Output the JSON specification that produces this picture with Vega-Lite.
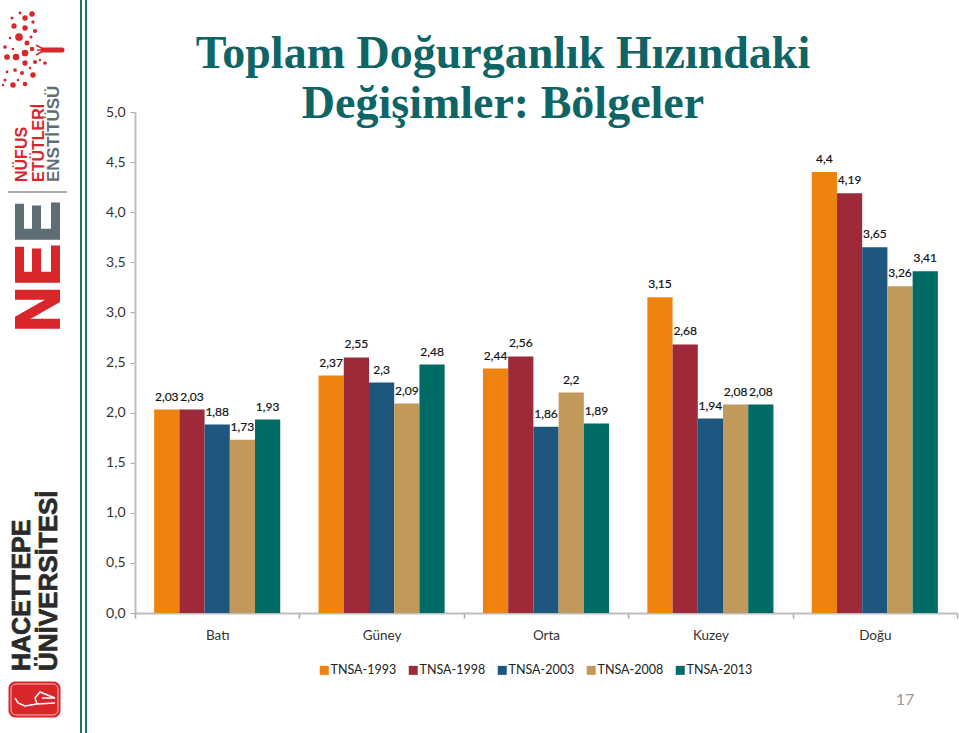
{
"$schema":"https://vega.github.io/schema/vega-lite/v6.json",
"width":822,"height":501,
"autosize":{"type":"none"},
"padding":{"left":135,"top":112,"right":2,"bottom":120},
"background":"white",
"config":{"view":{"stroke":null},"font":"Lato"},
"title":{"text":["Toplam Doğurganlık Hızındaki","Değişimler: Bölgeler"],"font":"Liberation Serif","fontWeight":"bold","fontSize":46,"color":"#0F6466","anchor":"middle","frame":"group","dx":-43,"offset":-129,"lineHeight":50},
"resolve":{"scale":{"x":"independent","y":"independent","xOffset":"independent"}},
"layer":[
{"data":{"values":[
{"bolge":"Batı","arastirma":"TNSA-1993","deger":2.03,"etiket":"2,03"},
{"bolge":"Batı","arastirma":"TNSA-1998","deger":2.03,"etiket":"2,03"},
{"bolge":"Batı","arastirma":"TNSA-2003","deger":1.88,"etiket":"1,88"},
{"bolge":"Batı","arastirma":"TNSA-2008","deger":1.73,"etiket":"1,73"},
{"bolge":"Batı","arastirma":"TNSA-2013","deger":1.93,"etiket":"1,93"},
{"bolge":"Güney","arastirma":"TNSA-1993","deger":2.37,"etiket":"2,37"},
{"bolge":"Güney","arastirma":"TNSA-1998","deger":2.55,"etiket":"2,55"},
{"bolge":"Güney","arastirma":"TNSA-2003","deger":2.3,"etiket":"2,3"},
{"bolge":"Güney","arastirma":"TNSA-2008","deger":2.09,"etiket":"2,09"},
{"bolge":"Güney","arastirma":"TNSA-2013","deger":2.48,"etiket":"2,48"},
{"bolge":"Orta","arastirma":"TNSA-1993","deger":2.44,"etiket":"2,44"},
{"bolge":"Orta","arastirma":"TNSA-1998","deger":2.56,"etiket":"2,56"},
{"bolge":"Orta","arastirma":"TNSA-2003","deger":1.86,"etiket":"1,86"},
{"bolge":"Orta","arastirma":"TNSA-2008","deger":2.2,"etiket":"2,2"},
{"bolge":"Orta","arastirma":"TNSA-2013","deger":1.89,"etiket":"1,89"},
{"bolge":"Kuzey","arastirma":"TNSA-1993","deger":3.15,"etiket":"3,15"},
{"bolge":"Kuzey","arastirma":"TNSA-1998","deger":2.68,"etiket":"2,68"},
{"bolge":"Kuzey","arastirma":"TNSA-2003","deger":1.94,"etiket":"1,94"},
{"bolge":"Kuzey","arastirma":"TNSA-2008","deger":2.08,"etiket":"2,08"},
{"bolge":"Kuzey","arastirma":"TNSA-2013","deger":2.08,"etiket":"2,08"},
{"bolge":"Doğu","arastirma":"TNSA-1993","deger":4.4,"etiket":"4,4"},
{"bolge":"Doğu","arastirma":"TNSA-1998","deger":4.19,"etiket":"4,19"},
{"bolge":"Doğu","arastirma":"TNSA-2003","deger":3.65,"etiket":"3,65"},
{"bolge":"Doğu","arastirma":"TNSA-2008","deger":3.26,"etiket":"3,26"},
{"bolge":"Doğu","arastirma":"TNSA-2013","deger":3.41,"etiket":"3,41"}
]},
"encoding":{
"x":{"field":"bolge","type":"nominal","sort":["Batı","Güney","Orta","Kuzey","Doğu"],"title":null,"scale":{"paddingInner":0,"paddingOuter":0},
"axis":{"labelAngle":0,"labelFontSize":13.5,"labelColor":"#333333","labelFont":"Lato","labelPadding":10,"tickBand":"extent","tickSize":5,"tickColor":"#A6A6A6","domainColor":"#BDBDBD","domainWidth":2,"tickWidth":1.5,"grid":false}},
"xOffset":{"field":"arastirma","type":"nominal","scale":{"paddingInner":0,"paddingOuter":0.76}},
"y":{"field":"deger","type":"quantitative","title":null,"scale":{"domain":[0,5],"nice":false},
"axis":{"values":[0,0.5,1,1.5,2,2.5,3,3.5,4,4.5,5],"labelExpr":"replace(format(datum.value,'.1f'),'.',',')","labelFontSize":14,"labelColor":"#333333","labelFont":"Lato","labelPadding":5,"tickSize":5,"tickColor":"#A6A6A6","domainColor":"#BDBDBD","domainWidth":2,"grid":false}}
},
"layer":[
{"mark":{"type":"bar"},
"encoding":{"color":{"field":"arastirma","type":"nominal","title":null,"scale":{"domain":["TNSA-1993","TNSA-1998","TNSA-2003","TNSA-2008","TNSA-2013"],"range":["#F0820F","#9E2A39","#1D577D","#C19A5B","#006A64"]},
"legend":{"orient":"none","legendX":183,"legendY":552,"direction":"horizontal","columns":5,"symbolType":"square","symbolSize":81,"symbolStrokeWidth":0,"labelFontSize":12.5,"labelColor":"#222222","labelFont":"Lato","columnPadding":10,"labelOffset":0}}}},
{"mark":{"type":"text","dy":-13,"fontSize":12,"font":"Lato","fontWeight":"normal","color":"#111111","stroke":"#111111","strokeWidth":0.2},"encoding":{"text":{"field":"etiket"}}}
]},
{"data":{"values":[{"px":81,"py":0,"py2":733},{"px":86,"py":0,"py2":733}]},"mark":{"type":"rule","color":"#1F6F72","strokeWidth":2},
"encoding":{"x":{"field":"px","type":"quantitative","axis":null,"scale":{"domain":[0,959],"range":[-135,824]}},"y":{"field":"py","type":"quantitative","axis":null,"scale":{"domain":[0,733],"range":[-112,621]}},"y2":{"field":"py2"}}},
{"data":{"values":[{"px":8,"px2":67,"py":192}]},"mark":{"type":"rule","color":"#A9B0B3","strokeWidth":2},
"encoding":{"x":{"field":"px","type":"quantitative","axis":null,"scale":{"domain":[0,959],"range":[-135,824]}},"x2":{"field":"px2"},"y":{"field":"py","type":"quantitative","axis":null,"scale":{"domain":[0,733],"range":[-112,621]}}}},
{"data":{"values":[{"px":43,"px2":62,"py":50}]},"mark":{"type":"rule","color":"#D8262A","strokeWidth":5,"strokeCap":"round"},
"encoding":{"x":{"field":"px","type":"quantitative","axis":null,"scale":{"domain":[0,959],"range":[-135,824]}},"x2":{"field":"px2"},"y":{"field":"py","type":"quantitative","axis":null,"scale":{"domain":[0,733],"range":[-112,621]}}}},
{"data":{"values":[{"px":36,"px2":45,"py":45,"py2":50},{"px":36,"px2":45,"py":55,"py2":50},{"px":37,"px2":45,"py":50,"py2":50}]},"mark":{"type":"rule","color":"#D8262A","strokeWidth":1.5},
"encoding":{"x":{"field":"px","type":"quantitative","axis":null,"scale":{"domain":[0,959],"range":[-135,824]}},"x2":{"field":"px2"},"y":{"field":"py","type":"quantitative","axis":null,"scale":{"domain":[0,733],"range":[-112,621]}},"y2":{"field":"py2"}}},
{"data":{"values":[
{"px":32,"py":14,"s":30},{"px":25,"py":18,"s":28},{"px":12,"py":18,"s":10},{"px":20,"py":13,"s":8},{"px":33,"py":22,"s":12},
{"px":14,"py":26,"s":28},{"px":25,"py":28,"s":30},{"px":35,"py":31,"s":18},{"px":31,"py":37,"s":10},{"px":19,"py":37,"s":60},
{"px":10,"py":38,"s":6},{"px":27,"py":43,"s":25},{"px":5,"py":47,"s":14},{"px":13,"py":49,"s":6},{"px":32,"py":49,"s":20},
{"px":25,"py":53,"s":45},{"px":7,"py":57,"s":32},{"px":16,"py":57,"s":42},{"px":35,"py":62,"s":16},{"px":25,"py":63,"s":28},
{"px":45,"py":63,"s":14},{"px":15,"py":70,"s":14},{"px":22,"py":73,"s":16},{"px":33,"py":75,"s":30},{"px":7,"py":72,"s":8},
{"px":5,"py":80,"s":10},{"px":13,"py":85,"s":30},{"px":25,"py":84,"s":22},{"px":18,"py":80,"s":6},{"px":3,"py":85,"s":6},
{"px":40,"py":60,"s":6},{"px":30,"py":68,"s":6}
]},"mark":{"type":"point","filled":true,"color":"#D8262A","opacity":1},
"encoding":{"x":{"field":"px","type":"quantitative","axis":null,"scale":{"domain":[0,959],"range":[-135,824]}},"y":{"field":"py","type":"quantitative","axis":null,"scale":{"domain":[0,733],"range":[-112,621]}},"size":{"field":"s","type":"quantitative","legend":null,"scale":null}}},
{"data":{"values":[{"px":9,"px2":60,"py":682,"py2":717}]},"mark":{"type":"rect","color":"#D8262A","cornerRadius":6,"stroke":"#D8262A"},
"encoding":{"x":{"field":"px","type":"quantitative","axis":null,"scale":{"domain":[0,959],"range":[-135,824]}},"x2":{"field":"px2"},"y":{"field":"py","type":"quantitative","axis":null,"scale":{"domain":[0,733],"range":[-112,621]}},"y2":{"field":"py2"}}},
{"data":{"values":[{"px":11,"px2":58,"py":684,"py2":715}]},"mark":{"type":"rect","fillOpacity":0,"cornerRadius":5,"stroke":"#F3B8B8","strokeWidth":1},
"encoding":{"x":{"field":"px","type":"quantitative","axis":null,"scale":{"domain":[0,959],"range":[-135,824]}},"x2":{"field":"px2"},"y":{"field":"py","type":"quantitative","axis":null,"scale":{"domain":[0,733],"range":[-112,621]}},"y2":{"field":"py2"}}},
{"data":{"values":[{"n":1,"px":15,"py":698},{"n":2,"px":18,"py":703},{"n":3,"px":25,"py":706},{"n":4,"px":37,"py":704},{"n":5,"px":55,"py":703},{"n":6,"px":37,"py":704},{"n":7,"px":35,"py":698},{"n":8,"px":40,"py":692},{"n":9,"px":55,"py":698},{"n":10,"px":42,"py":698}]},"mark":{"type":"line","color":"white","strokeWidth":1.5},
"encoding":{"x":{"field":"px","type":"quantitative","axis":null,"scale":{"domain":[0,959],"range":[-135,824]}},"y":{"field":"py","type":"quantitative","axis":null,"scale":{"domain":[0,733],"range":[-112,621]}},"order":{"field":"n","type":"quantitative"}}},
{"data":{"values":[{"t":"N","px":39.5,"py":332},{"t":"E","px":39.5,"py":286}]},"mark":{"type":"text","font":"Liberation Sans","fontWeight":"bold","fontSize":63,"angle":270,"color":"#D8262A","stroke":"#D8262A","strokeWidth":2,"align":"left","baseline":"middle"},
"encoding":{"x":{"field":"px","type":"quantitative","axis":null,"scale":{"domain":[0,959],"range":[-135,824]}},"y":{"field":"py","type":"quantitative","axis":null,"scale":{"domain":[0,733],"range":[-112,621]}},"text":{"field":"t"}}},
{"data":{"values":[{"t":"E","px":39.5,"py":243}]},"mark":{"type":"text","font":"Liberation Sans","fontWeight":"bold","fontSize":63,"angle":270,"color":"#5F6E75","stroke":"#5F6E75","strokeWidth":2,"align":"left","baseline":"middle"},
"encoding":{"x":{"field":"px","type":"quantitative","axis":null,"scale":{"domain":[0,959],"range":[-135,824]}},"y":{"field":"py","type":"quantitative","axis":null,"scale":{"domain":[0,733],"range":[-112,621]}},"text":{"field":"t"}}},
{"data":{"values":[{"t":"NÜFUS","px":21.5,"py":182},{"t":"ETÜTLERİ","px":38.5,"py":182}]},"mark":{"type":"text","font":"Liberation Sans","fontWeight":"bold","fontSize":16,"angle":270,"color":"#D8262A","align":"left","baseline":"middle"},
"encoding":{"x":{"field":"px","type":"quantitative","axis":null,"scale":{"domain":[0,959],"range":[-135,824]}},"y":{"field":"py","type":"quantitative","axis":null,"scale":{"domain":[0,733],"range":[-112,621]}},"text":{"field":"t"}}},
{"data":{"values":[{"t":"ENSTİTÜSÜ","px":54,"py":182}]},"mark":{"type":"text","font":"Liberation Sans","fontWeight":"bold","fontSize":17,"angle":270,"color":"#5F6E75","align":"left","baseline":"middle"},
"encoding":{"x":{"field":"px","type":"quantitative","axis":null,"scale":{"domain":[0,959],"range":[-135,824]}},"y":{"field":"py","type":"quantitative","axis":null,"scale":{"domain":[0,733],"range":[-112,621]}},"text":{"field":"t"}}},
{"data":{"values":[{"t":"HACETTEPE","px":22,"py":671}]},"mark":{"type":"text","font":"Liberation Sans","fontWeight":"bold","fontSize":25,"angle":270,"color":"#2A2A2A","stroke":"#2A2A2A","strokeWidth":0.7,"align":"left","baseline":"middle"},
"encoding":{"x":{"field":"px","type":"quantitative","axis":null,"scale":{"domain":[0,959],"range":[-135,824]}},"y":{"field":"py","type":"quantitative","axis":null,"scale":{"domain":[0,733],"range":[-112,621]}},"text":{"field":"t"}}},
{"data":{"values":[{"t":"ÜNİVERSİTESİ","px":49,"py":671}]},"mark":{"type":"text","font":"Liberation Sans","fontWeight":"bold","fontSize":26,"angle":270,"color":"#2A2A2A","stroke":"#2A2A2A","strokeWidth":0.7,"align":"left","baseline":"middle"},
"encoding":{"x":{"field":"px","type":"quantitative","axis":null,"scale":{"domain":[0,959],"range":[-135,824]}},"y":{"field":"py","type":"quantitative","axis":null,"scale":{"domain":[0,733],"range":[-112,621]}},"text":{"field":"t"}}},
{"data":{"values":[{"t":"17","px":905,"py":700}]},"mark":{"type":"text","font":"Lato","fontSize":16,"color":"#9A9A9A","align":"center","baseline":"middle"},
"encoding":{"x":{"field":"px","type":"quantitative","axis":null,"scale":{"domain":[0,959],"range":[-135,824]}},"y":{"field":"py","type":"quantitative","axis":null,"scale":{"domain":[0,733],"range":[-112,621]}},"text":{"field":"t"}}}
]
}
